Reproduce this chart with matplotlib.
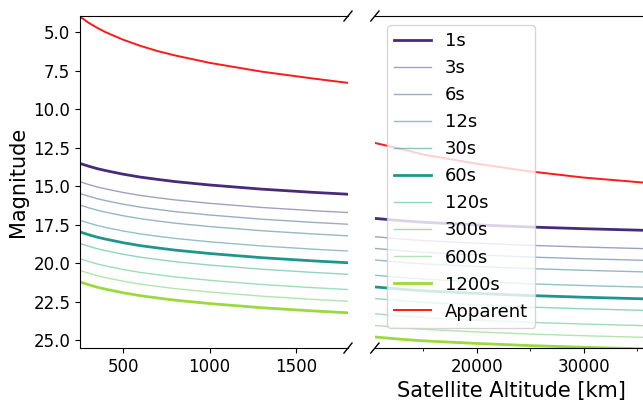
import numpy as np
import matplotlib
matplotlib.use("Agg")
import matplotlib.pyplot as plt
from matplotlib.ticker import MultipleLocator

altitude = [250, 300, 350, 400, 500, 600, 700, 800, 1000, 1300, 1600, 1800,
            10500, 13000, 15000, 20000, 25000, 30000, 36000]

labels = ['1s', '3s', '6s', '12s', '30s', '60s', '120s', '300s', '600s', '1200s']
mags = [
    [13.53, 13.71, 13.87, 14.00, 14.23, 14.42, 14.57, 14.71, 14.93, 15.20, 15.41, 15.53, 17.10, 17.25, 17.35, 17.52, 17.66, 17.77, 17.88],
    [14.72, 14.90, 15.06, 15.19, 15.42, 15.61, 15.76, 15.90, 16.12, 16.39, 16.60, 16.72, 18.29, 18.44, 18.54, 18.71, 18.85, 18.96, 19.07],
    [15.48, 15.66, 15.82, 15.95, 16.18, 16.37, 16.52, 16.66, 16.88, 17.15, 17.36, 17.48, 19.05, 19.20, 19.30, 19.47, 19.61, 19.72, 19.83],
    [16.23, 16.41, 16.57, 16.70, 16.93, 17.12, 17.27, 17.41, 17.63, 17.90, 18.11, 18.23, 19.80, 19.95, 20.05, 20.22, 20.36, 20.47, 20.58],
    [17.22, 17.40, 17.56, 17.69, 17.92, 18.11, 18.26, 18.40, 18.62, 18.89, 19.10, 19.22, 20.79, 20.94, 21.04, 21.21, 21.35, 21.46, 21.57],
    [17.98, 18.16, 18.32, 18.45, 18.68, 18.87, 19.02, 19.16, 19.38, 19.65, 19.86, 19.98, 21.55, 21.70, 21.80, 21.97, 22.11, 22.22, 22.33],
    [18.73, 18.91, 19.07, 19.20, 19.43, 19.62, 19.77, 19.91, 20.13, 20.40, 20.61, 20.73, 22.30, 22.45, 22.55, 22.72, 22.86, 22.97, 23.08],
    [19.72, 19.90, 20.06, 20.19, 20.42, 20.61, 20.76, 20.90, 21.12, 21.39, 21.60, 21.72, 23.29, 23.44, 23.54, 23.71, 23.85, 23.96, 24.07],
    [20.48, 20.66, 20.82, 20.95, 21.18, 21.37, 21.52, 21.66, 21.88, 22.15, 22.36, 22.48, 24.05, 24.20, 24.30, 24.47, 24.61, 24.72, 24.83],
    [21.23, 21.41, 21.57, 21.70, 21.93, 22.12, 22.27, 22.41, 22.63, 22.90, 23.11, 23.23, 24.80, 24.95, 25.05, 25.22, 25.36, 25.47, 25.58],
]
apparent = [4.0, 4.4, 4.73, 5.02, 5.5, 5.9, 6.24, 6.52, 7.0, 7.57, 8.02, 8.3,
            12.2, 12.6, 12.95, 13.55, 14.05, 14.45, 14.8]

colors = plt.cm.viridis(np.linspace(0.12, 0.85, len(labels)))
thick = ['1s', '60s', '1200s']

fig = plt.figure(figsize=(6.43, 4.01), dpi=100)
ax1 = fig.add_axes([0.1244, 0.132, 0.4168, 0.828])
ax2 = fig.add_axes([0.583, 0.132, 0.425, 0.828], sharey=ax1)

for ax in (ax1, ax2):
    for lab, m, c in zip(labels, mags, colors):
        if lab in thick:
            ax.plot(altitude, m, color=c, lw=2, label=lab)
        else:
            ax.plot(altitude, m, color=c, lw=1, alpha=0.5, label=lab)
    ax.plot(altitude, apparent, color='red', lw=1.4, alpha=0.9, label='Apparent')

ax1.set_xlim(250, 1800)
ax2.set_xlim(10500, 36000)
ax1.set_ylim(25.52, 3.96)
ax1.yaxis.set_major_locator(MultipleLocator(2.5))
ax1.xaxis.set_major_locator(MultipleLocator(500))
ax2.xaxis.set_major_locator(MultipleLocator(10000))
ax2.xaxis.set_minor_locator(MultipleLocator(5000))

ax1.spines['right'].set_visible(False)
ax2.spines['left'].set_visible(False)
ax2.tick_params(axis='y', left=False, labelleft=False)
for ax in (ax1, ax2):
    ax.tick_params(labelsize=12)

ax1.set_ylabel('Magnitude', fontsize=15)
ax2.set_xlabel('Satellite Altitude [km]', fontsize=15)

# diagonal break marks
d = .015
kw = dict(color='k', clip_on=False, lw=1)
ax1.plot([1 - d, 1 + d], [-d, +d], transform=ax1.transAxes, **kw)
ax1.plot([1 - d, 1 + d], [1 - d, 1 + d], transform=ax1.transAxes, **kw)
ax2.plot([-d, +d], [-d, +d], transform=ax2.transAxes, **kw)
ax2.plot([-d, +d], [1 - d, 1 + d], transform=ax2.transAxes, **kw)

ax2.legend(loc='upper left', fontsize=13, borderaxespad=0.5,
           bbox_to_anchor=(0.012, 1.0))

fig.savefig('out.png', dpi=100)
